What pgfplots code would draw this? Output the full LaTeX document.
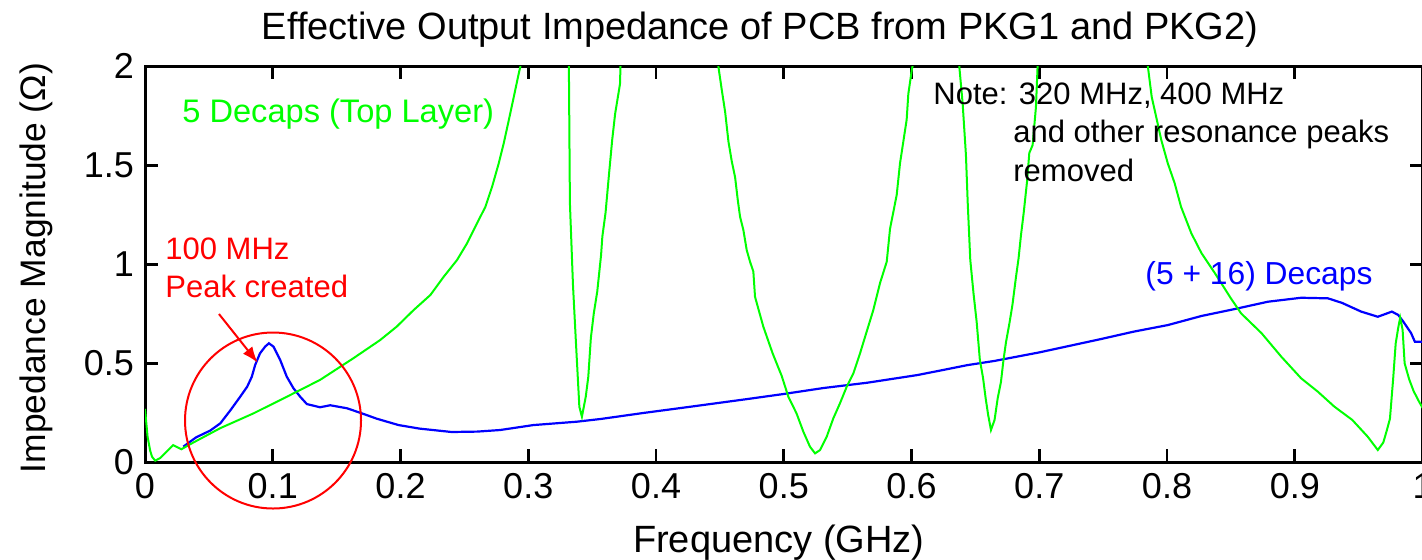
\documentclass[border=0pt]{standalone}
\usepackage{fontspec}
\setmainfont{Liberation Sans}
\usepackage{pgfplots}
\pgfplotsset{compat=1.18}
\usetikzlibrary{arrows.meta}
\definecolor{mgreen}{RGB}{0,255,0}
\definecolor{mblue}{RGB}{0,0,255}
\definecolor{mred}{RGB}{255,0,0}

\pgfplotstableread{
x y
0.030 0.079
0.040 0.126
0.051 0.160
0.059 0.197
0.067 0.264
0.0745 0.331
0.080 0.382
0.0836 0.432
0.0862 0.491
0.090 0.550
0.094 0.584
0.097 0.601
0.1006 0.584
0.1058 0.517
0.111 0.432
0.1162 0.374
0.1215 0.331
0.1267 0.294
0.137 0.278
0.145 0.288
0.158 0.273
0.1685 0.250
0.1815 0.220
0.1985 0.188
0.215 0.170
0.240 0.153
0.260 0.155
0.278 0.163
0.304 0.188
0.338 0.205
0.357 0.219
0.390 0.249
0.4216 0.276
0.471 0.319
0.500 0.345
0.531 0.375
0.5655 0.402
0.605 0.441
0.644 0.491
0.665 0.512
0.700 0.555
0.748 0.622
0.774 0.660
0.8006 0.693
0.827 0.739
0.853 0.774
0.879 0.811
0.905 0.831
0.926 0.828
0.937 0.805
0.952 0.761
0.965 0.735
0.976 0.761
0.981 0.744
0.985 0.710
0.991 0.653
0.994 0.609
1.000 0.609
}\bluedata

\pgfplotstableread{
x y
0 0.27
0.001 0.20
0.002 0.13
0.004 0.06
0.0055 0.028
0.008 0.008
0.012 0.022
0.017 0.054
0.022 0.087
0.0285 0.066
0.035 0.090
0.0588 0.172
0.0849 0.247
0.111 0.331
0.137 0.416
0.163 0.525
0.184 0.617
0.197 0.685
0.2103 0.769
0.2234 0.845
0.2338 0.937
0.2443 1.022
0.2521 1.106
0.2599 1.207
0.2665 1.291
0.2717 1.392
0.2769 1.510
0.2808 1.611
0.2848 1.729
0.2887 1.846
0.2926 1.965
0.2939 2.0
0.31 6
0.3318 2.0
0.3326 1.31
0.3350 0.896
0.3375 0.583
0.3400 0.28
0.342 0.23
0.345 0.331
0.347 0.432
0.349 0.628
0.3513 0.752
0.354 0.862
0.357 1.047
0.358 1.14
0.3605 1.26
0.363 1.44
0.3657 1.628
0.368 1.76
0.3718 1.91
0.3722 2.0
0.41 6
0.4488 2.0
0.4515 1.88
0.4541 1.77
0.4567 1.62
0.4593 1.52
0.4619 1.44
0.464 1.325
0.4658 1.24
0.4684 1.173
0.471 1.072
0.4736 1.013
0.4762 0.963
0.4775 0.836
0.4840 0.685
0.4913 0.55
0.4984 0.436
0.5036 0.331
0.510 0.247
0.5153 0.155
0.5205 0.079
0.5245 0.045
0.5284 0.062
0.5336 0.129
0.5388 0.222
0.544 0.298
0.5493 0.382
0.5545 0.449
0.5597 0.55
0.5649 0.66
0.5701 0.769
0.5753 0.904
0.5806 1.013
0.5832 1.18
0.5884 1.35
0.591 1.51
0.5936 1.62
0.5962 1.73
0.5975 1.86
0.6002 1.98
0.6008 2.0
0.62 6
0.6374 2.0
0.640 1.815
0.6426 1.552
0.644 1.31
0.646 1.022
0.6485 0.855
0.651 0.709
0.6535 0.517
0.656 0.426
0.658 0.325
0.660 0.239
0.6622 0.163
0.665 0.2136
0.6675 0.325
0.670 0.405
0.672 0.517
0.674 0.608
0.6767 0.704
0.679 0.795
0.6818 0.937
0.6838 1.03
0.6857 1.148
0.6878 1.259
0.6904 1.416
0.6922 1.562
0.6948 1.602
0.6974 1.794
0.6987 2.0
0.74 6
0.785 2.0
0.788 1.846
0.7915 1.745
0.7955 1.628
0.8006 1.51
0.806 1.409
0.811 1.29
0.819 1.157
0.827 1.056
0.8375 0.955
0.850 0.828
0.858 0.752
0.874 0.652
0.8895 0.533
0.905 0.424
0.918 0.357
0.931 0.281
0.945 0.214
0.957 0.130
0.965 0.062
0.9693 0.10
0.972 0.16
0.9745 0.22
0.977 0.42
0.979 0.60
0.981 0.68
0.9825 0.73
0.9844 0.67
0.986 0.50
0.9895 0.42
0.993 0.36
0.997 0.31
1.000 0.275
}\greendata

\begin{document}
\begin{tikzpicture}
\begin{axis}[
  at={(72.5pt,48.85pt)}, anchor=south west,
  scale only axis, width=638.75pt, height=198pt,
  xmin=0, xmax=1, ymin=0, ymax=2,
  xtick={0,0.1,0.2,0.3,0.4,0.5,0.6,0.7,0.8,0.9,1},
  xticklabels={0,0.1,0.2,0.3,0.4,0.5,0.6,0.7,0.8,0.9,1},
  ytick={0,0.5,1,1.5,2},
  yticklabels={0,0.5,1,1.5,2},
  tick align=inside,
  major tick length=6.5pt,
  axis line style={line width=1.5pt},
  every tick/.style={black, line width=1.3pt},
  ticklabel style={font=\fontsize{18}{20}\selectfont},
  xticklabel style={yshift=-2pt},
  yticklabel style={xshift=-2pt},
  clip mode=individual,
]
\addplot[mblue, line width=1.1pt] table[x=x,y=y] {\bluedata};
\addplot[mgreen, line width=1pt] table[x=x,y=y] {\greendata};
\draw[mred, line width=1pt] (axis cs:0.1002,0.211) circle[radius=44pt];
\draw[mred, line width=1pt, -{Latex[length=8pt,width=6pt]}] (axis cs:0.0579,0.749) -- (axis cs:0.0882,0.503);
\end{axis}
\node[anchor=base, inner sep=0, font=\fontsize{19}{22}\selectfont] at (380pt,260pt) {Effective Output Impedance of PCB from PKG1 and PKG2)};
\node[anchor=base, inner sep=0, font=\fontsize{19}{22}\selectfont] at (389.4pt,3.5pt) {Frequency (GHz)};
\node[rotate=90, anchor=center, inner sep=0, font=\fontsize{17.7}{20}\selectfont] at (18pt,146pt) {Impedance Magnitude (Ω)};
\begin{scope}[every node/.style={anchor=base west, inner sep=0, font=\fontsize{15.5}{18}\selectfont}]
\node[text=mgreen, font=\fontsize{16.3}{18}\selectfont] at (91pt,218.5pt) {5 Decaps (Top Layer)};
\node at (466.5pt,227.5pt) {Note: 320 MHz, 400 MHz};
\node at (506.5pt,208.5pt) {and other resonance peaks};
\node at (506.5pt,189pt) {removed};
\node[text=mred] at (82.5pt,150pt) {100 MHz};
\node[text=mred] at (82.5pt,131pt) {Peak created};
\node[text=mblue, font=\fontsize{15.9}{18}\selectfont] at (572.5pt,137.5pt) {(5 + 16) Decaps};
\end{scope}
\pgfresetboundingbox
\useasboundingbox (0,0) rectangle (711pt,280pt);
\end{tikzpicture}
\end{document}
